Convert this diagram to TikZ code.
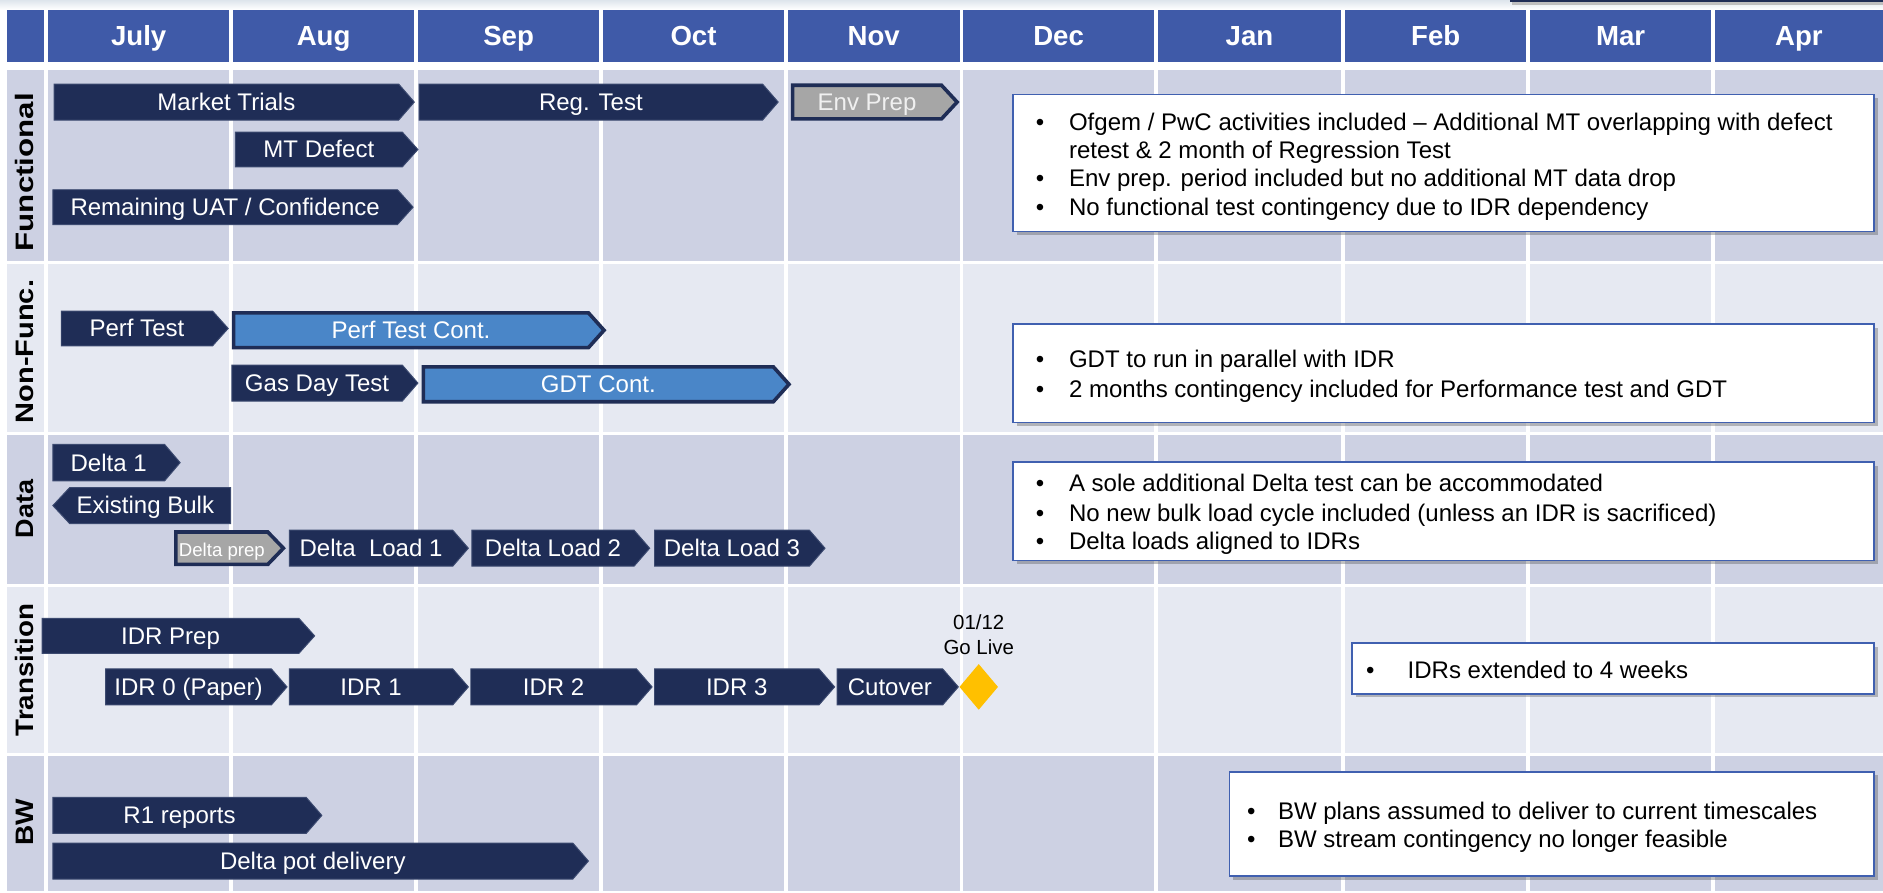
\documentclass[tikz,border=0pt]{standalone}
\usepackage{graphicx}
\usepackage{fontspec}
\setmainfont{Liberation Sans}
\usetikzlibrary{shadows}
\definecolor{hdr}{RGB}{63,90,168}
\definecolor{navy}{RGB}{31,45,86}
\definecolor{navyedge}{RGB}{60,74,112}
\definecolor{lblue}{RGB}{74,134,200}
\definecolor{gfill}{RGB}{166,166,166}
\definecolor{rowA}{RGB}{205,209,227}
\definecolor{rowB}{RGB}{230,233,242}
\definecolor{nbord}{RGB}{64,96,176}
\definecolor{gold}{RGB}{255,192,0}
\definecolor{topbg}{RGB}{222,229,236}
\definecolor{envtext}{RGB}{240,240,240}
\newcommand\fs[1]{\fontsize{#1}{#1}\selectfont}
\tikzset{
  bartext/.style={text=white, font=\fs{20}, inner sep=0pt, text height=14pt, text depth=0pt},
  darkbar/.style={fill=navy, draw=navyedge, line width=0.8pt},
  bluebar/.style={fill=lblue, draw=navy, line width=3pt},
  graybar/.style={fill=gfill, draw=navy, line width=3pt},
  hdrtext/.style={text=white, font=\bfseries\fs{23}, inner sep=0pt, text height=16.5pt, text depth=0pt},
  rowlab/.style={text=black, inner sep=0pt, rotate=90, font=\bfseries\fs{21}},
  notebox/.style={draw=nbord, line width=1.5pt, fill=white, inner sep=0pt, anchor=north west,
    drop shadow={shadow xshift=3pt, shadow yshift=-3pt, opacity=0.35, fill=black!70}},
  notetext/.style={font=\fs{20}, anchor=base west, inner sep=0pt, text=black},
  bultext/.style={font=\fs{20}, anchor=base, inner sep=0pt, text=black},
  goltext/.style={font=\fs{17}, anchor=base, inner sep=0pt, text=black}
}
% name, x1, x2(tip), y1, y2, style, text
\newcommand\gbar[7]{%
  \path[#6] (#2,#4) -- ({#3-13},#4) -- (#3,{(#4+#5)/2}) -- ({#3-13},#5) -- (#2,#5) -- cycle;
  \node[bartext] (#1) at ({(#2+#3-13)/2},{(#4+#5)/2}) {#7};}
\newcommand\nline[4]{\node[notetext] (#1) at (#2,#3) {#4};}
\newcommand\nbul[3]{\node[bultext] (#1) at (#2,#3) {•};}
\begin{document}
\begin{tikzpicture}[x=1pt,y=-1pt]
\useasboundingbox (0,0) rectangle (1568,743.6);
\fill[white] (0,0) rectangle (1568,743.6);
\shade[top color=topbg, bottom color=white] (0,0) rectangle (1568,8);
% fragment at top right
\fill[black!25] (1259,1.5) rectangle (1568,4);
\fill[navy] (1257,0) rectangle (1568,2);
% grid
\foreach \ya/\yb/\c in {58/217/rowA,220/360/rowB,362.5/486/rowA,489/627/rowB,629.5/742/rowA}{
  \foreach \xa/\xb in {6/37,40/191,194/345,348/499,502/653,656/799,802/961,964/1117,1120/1271,1274/1425,1428/1568}{
    \fill[\c] (\xa,\ya) rectangle (\xb,\yb);
  }
}
% header
\foreach \xa/\xb in {6/37,40/191,194/345,348/499,502/653,656/799,802/961,964/1117,1120/1271,1274/1425,1428/1568}{
  \fill[hdr] (\xa,8) rectangle (\xb,52);
}
\foreach \m/\xc in {July/115.5,Aug/269.5,Sep/423.5,Oct/577.5,Nov/727.5,Dec/881.5,Jan/1040.5,Feb/1195.5,Mar/1349.5,Apr/1498}{
  \node[hdrtext] (m\m) at (\xc,30) {\m};
}
% row labels
\node[rowlab] (lFunc) at (20.5,143.4) {\scalebox{1.24}[1]{Functional}};
\node[rowlab] (lNon) at (20.5,292.8) {\scalebox{1.15}[1]{Non-Func.}};
\node[rowlab] (lData) at (20.5,424) {\scalebox{1.07}[1]{Data}};
\node[rowlab] (lTrans) at (20.5,558) {\scalebox{1.1}[1]{Transition}};
\node[rowlab] (lBW) at (20.5,684.5) {\scalebox{1.11}[1]{BW}};
% Functional
\gbar{mt}{45}{345}{70}{100}{darkbar}{Market Trials}
\gbar{reg}{349}{648}{70}{100}{darkbar}{Reg. Test}
\gbar{env}{660}{797}{71}{99}{graybar}{\color{envtext}Env Prep}
\gbar{mtd}{196}{348}{110}{139}{darkbar}{MT Defect}
\gbar{uat}{44}{344}{158}{187}{darkbar}{Remaining UAT / Confidence}
% Non-Func
\gbar{perf}{51}{190}{259}{288}{darkbar}{Perf Test}
\gbar{perfc}{194.5}{503}{260.5}{289.5}{bluebar}{Perf Test Cont.}
\gbar{gdt}{193}{348}{304}{334}{darkbar}{Gas Day Test}
\gbar{gdtc}{352.5}{657}{305.5}{334.5}{bluebar}{GDT Cont.}
% Data
\gbar{d1}{44}{150}{370}{400.5}{darkbar}{Delta 1}
\path[darkbar] (44,421) -- (58,406) -- (192,406) -- (192,436) -- (58,436) -- cycle;
\node[bartext] (bulk) at (121,421) {Existing Bulk};
\gbar{dprep}{146.5}{236}{443}{470}{graybar}{\fs{15.5}Delta prep}
\gbar{dl1}{241}{390}{441.5}{471.5}{darkbar}{Delta\ \ Load 1}
\gbar{dl2}{393}{541}{441.5}{471.5}{darkbar}{Delta Load 2}
\gbar{dl3}{545}{687}{441.5}{471.5}{darkbar}{Delta Load 3}
% Transition
\gbar{idrp}{35}{262}{515}{544}{darkbar}{IDR Prep}
\gbar{idr0}{88}{239}{557}{587}{darkbar}{IDR 0 (Paper)}
\gbar{idr1}{241}{390}{557}{587}{darkbar}{IDR 1}
\gbar{idr2}{392}{543}{557}{587}{darkbar}{IDR 2}
\gbar{idr3}{545}{695}{557}{587}{darkbar}{IDR 3}
\gbar{cut}{697}{798}{557}{587}{darkbar}{Cutover}
\coordinate (golive) at (815,572);
\fill[gold] (799,572) -- (815,553) -- (831,572) -- (815,591) -- cycle;
\node[goltext] (gl1) at (815,524) {01/12};
\node[goltext] (gl2) at (815,545) {Go Live};
% BW
\gbar{r1}{44}{268}{664}{694}{darkbar}{R1 reports}
\gbar{dpot}{44}{490}{702}{732}{darkbar}{Delta pot delivery}
% notes
\node[notebox, minimum width=717pt, minimum height=114pt] (nF) at (843,78) {};
\nbul{bF1}{866}{108.5}\nline{tF1}{890}{108.5}{Ofgem / PwC activities included – Additional MT overlapping with defect}
\nline{tF2}{890}{132}{retest \& 2 month of Regression Test}
\nbul{bF3}{866}{155.6}\nline{tF3}{890}{155.6}{Env prep. period included but no additional MT data drop}
\nbul{bF4}{866}{179.2}\nline{tF4}{890}{179.2}{No functional test contingency due to IDR dependency}
\node[notebox, minimum width=717pt, minimum height=82pt] (nN) at (843,269) {};
\nbul{bN1}{866}{306}\nline{tN1}{890}{306}{GDT to run in parallel with IDR}
\nbul{bN2}{866}{330.6}\nline{tN2}{890}{330.6}{2 months contingency included for Performance test and GDT}
\node[notebox, minimum width=717pt, minimum height=82pt] (nD) at (843,384) {};
\nbul{bD1}{866}{409}\nline{tD1}{890}{409}{A sole additional Delta test can be accommodated}
\nbul{bD2}{866}{434}\nline{tD2}{890}{434}{No new bulk load cycle included (unless an IDR is sacrificed)}
\nbul{bD3}{866}{457.6}\nline{tD3}{890}{457.6}{Delta loads aligned to IDRs}
\node[notebox, minimum width=435pt, minimum height=42pt] (nT) at (1125,535) {};
\nbul{bT1}{1141}{564.8}\nline{tT1}{1172}{564.8}{IDRs extended to 4 weeks}
\node[notebox, minimum width=537pt, minimum height=87pt] (nB) at (1023,642) {};
\nbul{bB1}{1042}{682}\nline{tB1}{1064}{682}{BW plans assumed to deliver to current timescales}
\nbul{bB2}{1042}{706}\nline{tB2}{1064}{706}{BW stream contingency no longer feasible}
\end{tikzpicture}
\end{document}
